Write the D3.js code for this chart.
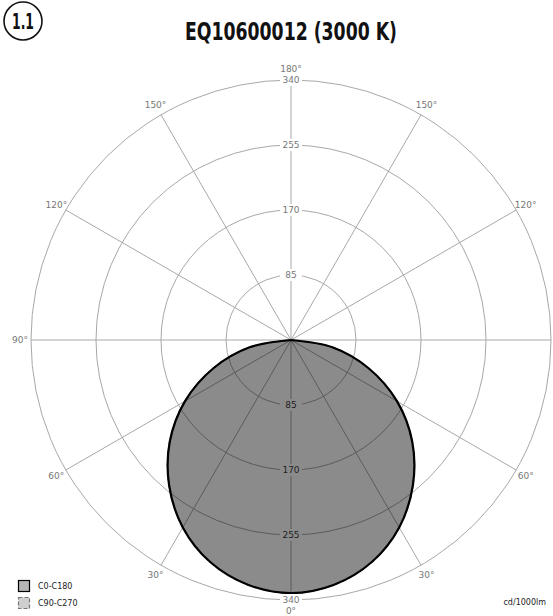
<!DOCTYPE html>
<html><head><meta charset="utf-8">
<script src="https://cdn.jsdelivr.net/npm/d3@7"></script>
<style>body{margin:0;background:#fff}svg{display:block}</style>
</head><body>
<script>
const title = "EQ10600012 (3000 K)";
const badge = "1.1";
const gammaAngles = [-90,-80,-70,-60,-50,-40,-30,-20,-10,0,10,20,30,40,50,60,70,80,90];
const c0c180  = [0,55,108,160,207,248,283,309,325,331,325,309,283,248,207,160,108,55,0];
const c90c270 = [0,55,108,160,207,248,283,309,325,331,325,309,283,248,207,160,108,55,0];
const ringValues = [85,170,255,340];
const spokeAngles = [0,30,60,90,120,150,180,210,240,270,300,330];
const angleLabels = [
  {a:0,t:"0°"},{a:-30,t:"30°"},{a:-60,t:"60°"},{a:-90,t:"90°"},{a:-120,t:"120°"},{a:-150,t:"150°"},
  {a:180,t:"180°"},{a:30,t:"30°"},{a:60,t:"60°"},{a:120,t:"120°"},{a:150,t:"150°"}];
const seriesNames = ["C0-C180","C90-C270"];
const unitLabel = "cd/1000lm";

const W=553,H=616, cx=291, cy=340, R=260;
const svg=d3.select("body").append("svg").attr("width",W).attr("height",H);
const r=d3.scaleLinear().domain([0,340]).range([0,R]);
const toRad=d=>d*Math.PI/180;
const font="'DejaVu Sans', Verdana, sans-serif";

// title + badge
svg.append("circle").attr("cx",23).attr("cy",21).attr("r",19).attr("fill","none").attr("stroke","#111").attr("stroke-width",1.6);
svg.append("text").attr("x",23).attr("y",29).attr("text-anchor","middle")
  .attr("font-family","'DejaVu Sans Condensed', 'DejaVu Sans', sans-serif").attr("font-weight","bold").attr("font-size",21)
  .attr("textLength",22).attr("lengthAdjust","spacingAndGlyphs").attr("fill","#111").text(badge);
svg.append("text").attr("x",291).attr("y",40).attr("text-anchor","middle")
  .attr("font-family","'DejaVu Sans Condensed', 'DejaVu Sans', sans-serif").attr("font-weight","bold").attr("font-size",25)
  .attr("textLength",212).attr("lengthAdjust","spacingAndGlyphs").attr("fill","#111").text(title);

const g=svg.append("g").attr("transform",`translate(${cx},${cy})`);
// grid
g.selectAll("circle.ring").data(ringValues).join("circle").attr("class","ring")
  .attr("r",d=>r(d)).attr("fill","none").attr("stroke","#a8a8a8").attr("stroke-width",1);
g.selectAll("line.spoke").data(spokeAngles).join("line").attr("class","spoke")
  .attr("x1",0).attr("y1",0)
  .attr("x2",d=>R*Math.sin(toRad(d))).attr("y2",d=>-R*Math.cos(toRad(d)))
  .attr("stroke","#a8a8a8").attr("stroke-width",1);

// curves (angle 0 = up; nadir = 180)
const line=d3.lineRadial().angle(d=>toRad(180+d[0])).radius(d=>r(d[1])).curve(d3.curveCatmullRom);
const pts=s=>gammaAngles.map((a,i)=>[a,s[i]]);
g.append("path").attr("d",line(pts(c90c270))+"Z").attr("fill","rgba(0,0,0,0.22)")
  .attr("stroke","#666").attr("stroke-width",1.5).attr("stroke-dasharray","4,3");
g.append("path").attr("d",line(pts(c0c180))+"Z").attr("fill","rgba(0,0,0,0.30)")
  .attr("stroke","#000").attr("stroke-width",2.2);

// value labels with background
const vlab=[];
ringValues.forEach(v=>{vlab.push({v,y:-r(v),inside:false});vlab.push({v,y:r(v),inside:v<c0c180[9]});});
const vl=g.selectAll("g.vl").data(vlab).join("g").attr("class","vl").attr("transform",d=>`translate(0,${d.y})`);
vl.append("rect").attr("x",-11).attr("y",-6).attr("width",22).attr("height",12)
  .attr("fill",d=>d.inside?"#8b8b8b":"#fff");
vl.append("text").attr("text-anchor","middle").attr("dy","0.35em").attr("font-family",font).attr("font-size",9)
  .attr("fill",d=>d.inside?"#222":"#777").text(d=>d.v);

// angle labels
const RL=271;
g.selectAll("text.al").data(angleLabels).join("text").attr("class","al")
  .attr("x",d=>RL*Math.sin(toRad(d.a))).attr("y",d=>RL*Math.cos(toRad(d.a)))
  .attr("text-anchor","middle").attr("dy","0.35em").attr("font-family",font).attr("font-size",9)
  .attr("fill","#777").text(d=>d.t);

// legend
const lg=svg.append("g").attr("transform","translate(18,580)");
lg.append("rect").attr("x",0.5).attr("y",0.5).attr("width",11).attr("height",11).attr("fill","#b5b5b5").attr("stroke","#000").attr("stroke-width",1.2);
lg.append("rect").attr("x",0.5).attr("y",17.5).attr("width",11).attr("height",11).attr("fill","#cfcfcf").attr("stroke","#777").attr("stroke-width",1.2).attr("stroke-dasharray","4,2");
lg.selectAll("text").data(seriesNames).join("text").attr("x",20).attr("y",(d,i)=>6+i*17).attr("dy","0.35em")
  .attr("font-family",font).attr("font-size",8).attr("fill","#222").text(d=>d);
svg.append("text").attr("x",546).attr("y",605).attr("text-anchor","end").attr("font-family",font).attr("font-size",8).attr("fill","#222").text(unitLabel);
</script>
</body></html>
